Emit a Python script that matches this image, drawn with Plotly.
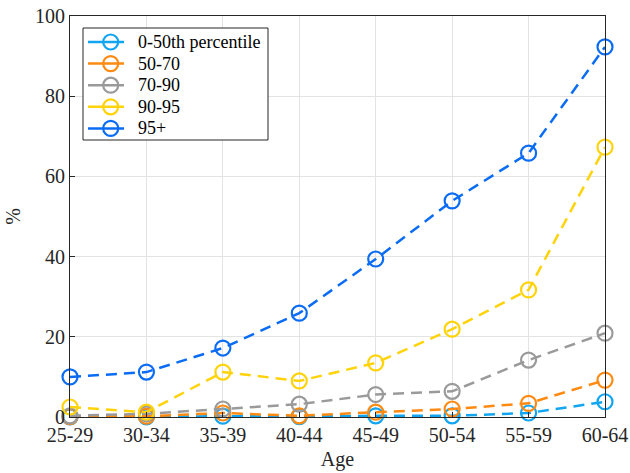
import plotly.graph_objects as go

ages = ["25-29", "30-34", "35-39", "40-44", "45-49", "50-54", "55-59", "60-64"]

p0_50 = [0.0, 0.0, 0.2, 0.1, 0.3, 0.3, 1.0, 3.8]
p50_70 = [0.1, 0.2, 1.0, 0.3, 1.2, 2.0, 3.4, 9.2]
p70_90 = [0.3, 0.8, 2.0, 3.2, 5.6, 6.4, 14.2, 20.9]
p90_95 = [2.5, 1.2, 11.2, 9.0, 13.5, 21.9, 31.7, 67.3]
p95 = [10.0, 11.2, 17.2, 25.9, 39.4, 53.9, 65.8, 92.3]

series = [
    ("0-50th percentile", p0_50, "#12A5F2"),
    ("50-70", p50_70, "#FF8A12"),
    ("70-90", p70_90, "#9A9A9A"),
    ("90-95", p90_95, "#FFD30A"),
    ("95+", p95, "#0A6CF5"),
]

font_family = "Liberation Serif"
axis_color = "#262626"
dash = "11px,7px"

# plot area in pixels
PX_L, PX_R, PX_T, PX_B = 70, 605, 16, 417
X_MAX, Y_MAX = len(ages) - 1, 100

fig = go.Figure()
x_idx = list(range(len(ages)))
for name, vals, color in series:
    fig.add_trace(go.Scatter(
        x=x_idx, y=vals, name=name, mode="lines+markers",
        line=dict(color=color, width=2.5, dash=dash),
        marker=dict(symbol="circle-open", size=15, color=color,
                    line=dict(width=2.2, color=color)),
        cliponaxis=False, showlegend=False,
    ))

# Boxed legend; legend entries live on a pixel-scaled overlay axis pair.
leg_left, leg_right, leg_top, leg_bottom = 83, 268, 28, 140
row_y0, row_step = 42, 21.6
sample_x0, sample_x1, marker_x, text_x = 88, 124, 110.7, 136


def px_to_x(px):
    return (px - PX_L) / (PX_R - PX_L) * X_MAX


def px_to_y(py):
    return (PX_B - py) / (PX_B - PX_T) * Y_MAX


fig.add_shape(type="rect", xref="x", yref="y",
              x0=px_to_x(leg_left), x1=px_to_x(leg_right),
              y0=px_to_y(leg_bottom), y1=px_to_y(leg_top),
              fillcolor="white", line=dict(color=axis_color, width=1),
              layer="between")

for i, (name, vals, color) in enumerate(series):
    yy = row_y0 + i * row_step
    fig.add_trace(go.Scatter(
        x=[sample_x0, sample_x1], y=[yy, yy], mode="lines",
        line=dict(color=color, width=2.5),
        xaxis="x2", yaxis="y2", showlegend=False, hoverinfo="skip",
    ))
    fig.add_trace(go.Scatter(
        x=[marker_x], y=[yy], mode="markers",
        marker=dict(symbol="circle-open", size=15, color=color,
                    line=dict(width=2.2, color=color)),
        xaxis="x2", yaxis="y2", showlegend=False, hoverinfo="skip",
    ))
    fig.add_annotation(x=text_x, y=yy, xref="x2", yref="y2",
                       text=name, showarrow=False, xanchor="left",
                       yanchor="middle",
                       font=dict(family=font_family, size=18, color="#000000"))

fig.update_layout(
    width=630, height=473,
    margin=dict(l=PX_L, r=630 - PX_R, t=PX_T, b=473 - PX_B),
    paper_bgcolor="white", plot_bgcolor="white",
    font=dict(family=font_family, size=20, color=axis_color),
    showlegend=False,
    xaxis=dict(
        range=[0, X_MAX], tickmode="array", tickvals=x_idx, ticktext=ages,
        showgrid=True, gridcolor="#E3E3E3", gridwidth=1,
        showline=True, linecolor=axis_color, linewidth=1, mirror=True,
        ticks="inside", ticklen=5, tickcolor=axis_color,
        zeroline=False, automargin=False,
        title=dict(text="Age", standoff=6, font=dict(family=font_family, size=20)),
        tickfont=dict(family=font_family, size=20),
    ),
    yaxis=dict(
        range=[0, Y_MAX], tickvals=[0, 20, 40, 60, 80, 100],
        showgrid=True, gridcolor="#E3E3E3", gridwidth=1,
        showline=True, linecolor=axis_color, linewidth=1, mirror=True,
        ticks="inside", ticklen=5, tickcolor=axis_color,
        zeroline=False, automargin=False,
        title=dict(text="%", standoff=9, font=dict(family=font_family, size=20)),
        tickfont=dict(family=font_family, size=20),
    ),
    xaxis2=dict(range=[PX_L, PX_R], overlaying="x", anchor="y2", visible=False,
                fixedrange=True),
    yaxis2=dict(range=[PX_B, PX_T], overlaying="y", anchor="x2", visible=False,
                fixedrange=True),
)

fig.write_html("out.html")
